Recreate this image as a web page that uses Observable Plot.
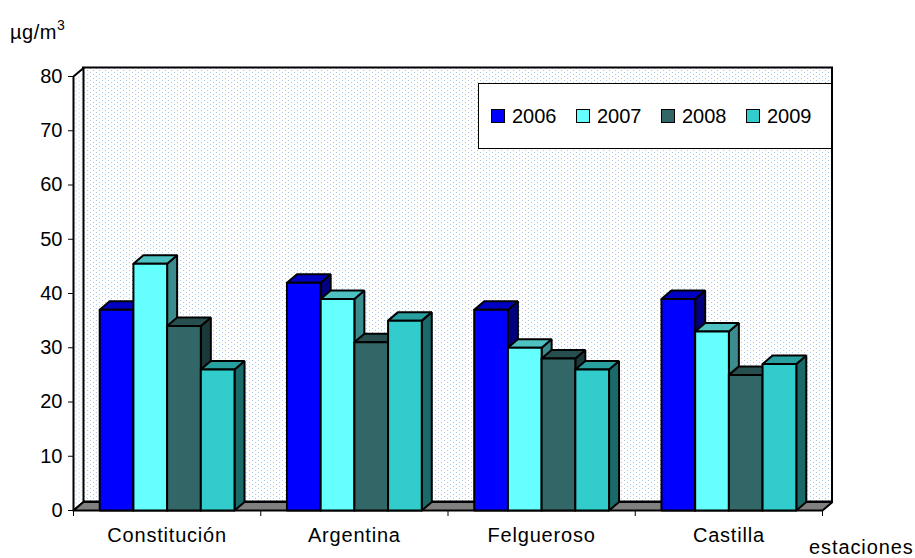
<!DOCTYPE html>
<html>
<head>
<meta charset="utf-8">
<script src="https://cdn.jsdelivr.net/npm/d3@7"></script>
<script src="https://cdn.jsdelivr.net/npm/@observablehq/plot@0.6"></script>
<style>
  html, body { margin: 0; padding: 0; background: #fff; }
  #wrap { position: relative; width: 915px; height: 558px; font-family: "Liberation Sans", Arial, sans-serif; color: #000; }
  #unit { position: absolute; left: 10px; top: 18px; font-size: 20px; letter-spacing: 0.5px; }
  #unit sup { font-size: 14px; position: relative; top: -1px; }
  #xlab { position: absolute; left: 809px; top: 536px; font-size: 20px; letter-spacing: 0.9px; }
  #legend { position: absolute; left: 478px; top: 83px; width: 354px; height: 66px; border: 1px solid #000; background: #fff;
            display: flex; align-items: center; padding-left: 12px; box-sizing: border-box; font-size: 20px; }
  .item { display: flex; align-items: center; width: 88.5px; }
  .sw { width: 12px; height: 12px; border: 1px solid #000; margin-right: 7px; }
</style>
</head>
<body>
<svg width="0" height="0" style="position:absolute">
  <defs>
    <pattern id="dots" width="6" height="4" patternUnits="userSpaceOnUse">
      <rect width="6" height="4" fill="#ffffff"/>
      <rect x="0" y="0" width="1" height="1" fill="#a9c6ee"/>
      <rect x="3" y="2" width="1" height="1" fill="#a9c6ee"/>
    </pattern>
  </defs>
</svg>
<div id="wrap"></div>
<script>
// ---- data ----
const categories = ["Constitución", "Argentina", "Felgueroso", "Castilla"];
const years = ["2006", "2007", "2008", "2009"];
const v2006 = [37, 42, 37, 39];
const v2007 = [45.5, 39, 30, 33];
const v2008 = [34, 31, 28, 25];
const v2009 = [26, 35, 26, 27];
const yTicks = [0, 10, 20, 30, 40, 50, 60, 70, 80];
const frontColors = ["#0000FF", "#66FFFF", "#336666", "#33CCCC"];
const topColors = ["#0000C4", "#4EC2C2", "#284F4F", "#29A0A0"];
const sideColors = ["#000080", "#3B8C8C", "#1C3939", "#1B6A6A"];

// ---- layout helpers (3D depth in data units) ----
const series = [v2006, v2007, v2008, v2009];
const W = 915, H = 558;
const mL = 73, mR = 93, mT = 76, mB = 48;
const pxX = (W - mL - mR) / categories.length; // px per category
const pxY = (H - mT - mB) / 80;                 // px per unit
const DX = 10 / pxX, DY = 8.5 / pxY;
const bw = 0.18, off = (1 - 4 * bw) / 2;

const polys = [];
let pid = 0;
function poly(pts, fill) {
  pid++;
  pts.concat([pts[0]]).forEach(([x, y]) => polys.push({id: pid, x, y, fill}));
}
categories.forEach((c, i) => {
  series.forEach((s, j) => {
    const v = s[i];
    const x1 = i + off + j * bw, x2 = x1 + bw;
    poly([[x2, 0], [x2, v], [x2 + DX, v + DY], [x2 + DX, DY]], sideColors[j]);
    poly([[x1, v], [x2, v], [x2 + DX, v + DY], [x1 + DX, v + DY]], topColors[j]);
    poly([[x1, 0], [x1, v], [x2, v], [x2, 0]], frontColors[j]);
  });
});

const n = categories.length;
const leftWall = [[0, 0], [0, 80], [DX, 80 + DY], [DX, DY], [0, 0]].map(([x, y]) => ({x, y}));
const floor = [[0, 0], [n, 0], [n + DX, DY], [DX, DY], [0, 0]].map(([x, y]) => ({x, y}));
const catLabels = categories.map((c, i) => ({c, x: i + 0.5}));

const chart = Plot.plot({
  width: W, height: H,
  marginLeft: mL, marginRight: mR, marginTop: mT, marginBottom: mB,
  style: {fontFamily: "Liberation Sans, Arial, sans-serif", fontSize: "20px", color: "#000", background: "transparent", overflow: "visible"},
  x: {type: "linear", domain: [0, n], ticks: d3.range(n + 1), tickFormat: () => "", tickSize: 6, label: null},
  y: {domain: [0, 80], ticks: yTicks, tickSize: 5, tickPadding: 6, label: null},
  color: {type: "identity"},
  marks: [
    Plot.rect([0], {x1: DX, x2: n + DX, y1: DY, y2: 80 + DY, fill: "url(#dots)", stroke: "#000", strokeWidth: 2}),
    Plot.line(leftWall, {x: "x", y: "y", fill: "url(#dots)", stroke: "#000", strokeWidth: 2, strokeLinejoin: "miter"}),
    Plot.line(floor, {x: "x", y: "y", fill: "#808080", stroke: "#000", strokeWidth: 2, strokeLinejoin: "miter"}),
    Plot.line(polys, {x: "x", y: "y", z: "id", fill: "fill", stroke: "#000", strokeWidth: 2, strokeLinejoin: "miter", curve: "linear"}),
    Plot.text(catLabels, {x: "x", y: 0, text: "c", dy: 31, lineAnchor: "bottom", fill: "#000", fontSize: 20, style: "letter-spacing: 0.8px"})
  ]
});

const wrap = document.getElementById("wrap");
wrap.appendChild(chart);
chart.querySelectorAll("text").forEach(t => {
  if (categories.includes(t.textContent)) t.setAttribute("letter-spacing", "0.8");
});

const unit = document.createElement("div");
unit.id = "unit";
unit.innerHTML = "µg/m<sup>3</sup>";
wrap.appendChild(unit);

const xlab = document.createElement("div");
xlab.id = "xlab";
xlab.textContent = "estaciones";
wrap.appendChild(xlab);

const legend = document.createElement("div");
legend.id = "legend";
years.forEach((y, j) => {
  const it = document.createElement("div");
  it.className = "item";
  const sw = document.createElement("div");
  sw.className = "sw";
  sw.style.background = frontColors[j];
  const t = document.createElement("span");
  t.textContent = y;
  it.appendChild(sw); it.appendChild(t);
  legend.appendChild(it);
});
wrap.appendChild(legend);
chart.style.position = "absolute";
chart.style.left = "0px";
chart.style.top = "0px";
</script>
</body>
</html>
